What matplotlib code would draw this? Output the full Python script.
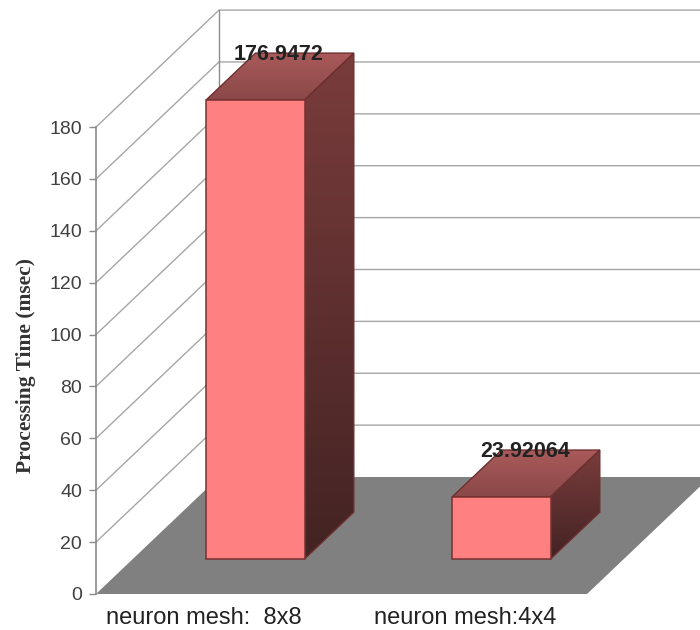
import numpy as np
import matplotlib
matplotlib.use("Agg")
import matplotlib.pyplot as plt
from matplotlib.colors import LinearSegmentedColormap
from matplotlib.patches import Polygon

categories = ["neuron mesh:  8x8", "neuron mesh:4x4"]
times = [176.9472, 23.92064]
value_labels = ["176.9472", "23.92064"]
y_ticks = list(range(0, 181, 20))

# Oblique projection settings, in data units
SHIFT_X, SHIFT_Y = 0.5, 45.1      # offset of the back wall from the front plane
BAR_DEPTH = (0.30, 0.70)          # front and back of each bar as a fraction of the depth
BAR_WIDTH = 0.40
BAR_POS = [0.498, 1.498]
FLOOR_RIGHT = 1.996

PX_X, PX_Y = 246.0, 2.594
X0, Y0 = 96.0, 594.0

fig = plt.figure(figsize=(7, 6.3), dpi=100, facecolor="white")
ax = fig.add_axes([0, 0, 1, 1])


def proj(c, v, d=0.0):
    return c + SHIFT_X * d, v + SHIFT_Y * d


def gradient_face(points, top_color, bottom_color, zorder):
    """Fill a polygon with a vertical colour gradient."""
    pts = np.array(points)
    cmap = LinearSegmentedColormap.from_list("face", [bottom_color, top_color])
    im = ax.imshow(np.linspace(0, 1, 256)[:, None], origin="lower", cmap=cmap, aspect="auto",
                   extent=(pts[:, 0].min(), pts[:, 0].max(), pts[:, 1].min(), pts[:, 1].max()),
                   zorder=zorder)
    clip = Polygon(pts, closed=True, transform=ax.transData, fc="none", ec="none")
    ax.add_patch(clip)
    im.set_clip_path(clip)
    ax.add_patch(Polygon(pts, closed=True, fc="none", ec="#6e2f2f", lw=1.0, zorder=zorder + 0.1))


# Floor and walls
ax.add_patch(Polygon([proj(0, 0), proj(0, 0, 1), proj(FLOOR_RIGHT, 0, 1), proj(FLOOR_RIGHT, 0)],
                     closed=True, fc="#808080", ec="none", zorder=1))
ax.plot(*zip(proj(0, 0, 1), proj(0, 180, 1)), color="#8c8c8c", lw=1.0, zorder=1.5)
for v in y_ticks[1:]:
    pts = [proj(0, v), proj(0, v, 1), proj(FLOOR_RIGHT + 1, v, 1)]
    ax.plot(*zip(*pts), color="#a6a6a6", lw=1.0, zorder=1.4)

# Bars as oblique boxes
for pos, val, text in zip(BAR_POS, times, value_labels):
    l, r = pos - BAR_WIDTH / 2, pos + BAR_WIDTH / 2
    d0, d1 = BAR_DEPTH
    front = [proj(l, 0, d0), proj(r, 0, d0), proj(r, val, d0), proj(l, val, d0)]
    side = [proj(r, 0, d0), proj(r, 0, d1), proj(r, val, d1), proj(r, val, d0)]
    top = [proj(l, val, d0), proj(r, val, d0), proj(r, val, d1), proj(l, val, d1)]
    gradient_face(side, "#7a3c3c", "#432323", 3)
    gradient_face(top, "#aa5a5a", "#8a4848", 3)
    ax.add_patch(Polygon(front, closed=True, fc="#ff8080", ec="#7a3030", lw=1.1, zorder=4))
    lx, _ = proj(pos, val, 0.49)
    _, ly = proj(pos, val, d1)
    ax.text(lx, ly - 0.4, text, ha="center", va="center", fontsize=15.5, fontweight="bold",
            family="Liberation Sans", color="#222222", zorder=6)

# Axes scaled so that one category step and the value scale fit the canvas
ax.set_xlim(-X0 / PX_X, (700 - X0) / PX_X)
ax.set_ylim(-(630 - Y0) / PX_Y, Y0 / PX_Y)
ax.patch.set_alpha(0)

# Spines are positioned first, since moving a spine resets its axis ticks
for name in ("top", "right"):
    ax.spines[name].set_visible(False)
ax.spines["left"].set_position(("data", 0))
ax.spines["left"].set_bounds(0, 180)
ax.spines["left"].set_color("#8a8a8a")
ax.spines["left"].set_linewidth(1.2)
ax.spines["bottom"].set_position(("data", 0))
ax.spines["bottom"].set_visible(False)

ax.set_yticks(y_ticks)
ax.tick_params(axis="y", length=5, width=1, color="#8a8a8a", pad=5, labelcolor="#404040", labelsize=14)
for t in ax.get_yticklabels():
    t.set_family("Liberation Sans")
    t.set_zorder(7)

ax.set_xticks([0.437, 1.50])
ax.tick_params(axis="x", length=0, pad=9)
ax.set_xticklabels(categories, family="Liberation Sans", fontsize=17, color="#222222")

ax.text(-70 / PX_X, 88, "Processing Time (msec)", rotation=90, ha="center", va="center",
        family="Liberation Serif", fontweight="bold", fontsize=15.5, color="#333333")

fig.savefig("out.png", dpi=100, facecolor="white")
